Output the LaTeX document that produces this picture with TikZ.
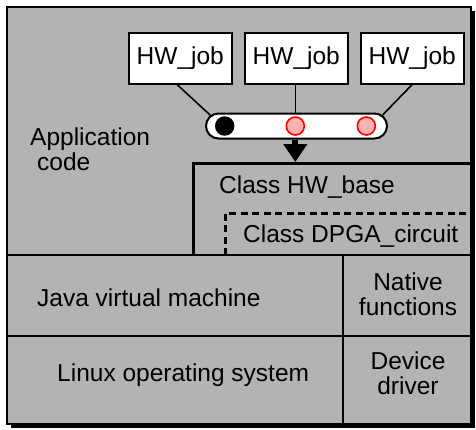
\documentclass[tikz,border=0pt]{standalone}
\usepackage{fontspec}
\setmainfont{Liberation Sans}
\usetikzlibrary{arrows.meta,positioning,shapes.misc}
\definecolor{panelgray}{RGB}{179,179,179}
\definecolor{slotpink}{RGB}{255,176,176}

\tikzset{
  lbl/.style={inner sep=0pt, font=\fontsize{24.5}{25}\selectfont},
  jobbox/.style={draw, line width=2pt, fill=white, minimum width=103pt,
    minimum height=51pt, inner sep=0pt, font=\fontsize{24.5}{25}\selectfont},
  slot/.style={circle, minimum size=18pt, inner sep=0pt},
  divider/.style={line width=1.4pt},
}

\begin{document}
\begin{tikzpicture}[x=1pt,y=-1pt]
\useasboundingbox (0,0) rectangle (476,429);

% panel with shadow
\fill (11,11) rectangle (475,428);
\draw[fill=panelgray, line width=1.8pt] (7,7) rectangle (471,424);

% layer boundaries
\draw[divider] (7,255) -- (471,255);
\draw[divider] (7,336) -- (471,336);
\draw[divider] (343,255) -- (343,424);
\draw[line width=3pt] (193,255) -- (193,163) -- (471,163);
\draw[line width=3pt, dash pattern=on 7pt off 4.5pt] (225,255) -- (225,213) -- (471,213);

% jobs and queue
\node[jobbox] (job1) at (180.3,58) {HW\_job};
\node[jobbox] (job2) at (296.3,58) {HW\_job};
\node[jobbox] (job3) at (412.2,58) {HW\_job};

\coordinate (s1) at (222,126);
\coordinate (s2) at (295.3,126);
\coordinate (s3) at (372,126);
\draw[line width=1.6pt] (job1.south -| 177,0) -- (s1);
\draw[line width=1.6pt] (job2.south -| s2) -- (s2);
\draw[line width=1.6pt] (job3.south) -- (s3);

\node[rounded rectangle, draw, line width=2pt, fill=white, minimum width=181pt,
  minimum height=25pt, inner sep=0pt] (queue) at (296.5,126) {};
\node[slot, fill=black, minimum size=19.5pt] (d1) at (224.7,126) {};
\node[slot, draw=red, line width=1.6pt, fill=slotpink] (d2) at (295.3,126) {};
\node[slot, draw=red, line width=1.6pt, fill=slotpink] (d3) at (366.3,126) {};

\coordinate (hit) at (295.3,162);
\draw[line width=6pt, -{Triangle[width=23pt,length=18pt]}] (queue.south -| d2) -- (hit);

% labels
\node[lbl, align=left, anchor=west] (app) at (30,149) {Application\\\hspace*{7pt}code};
\node[lbl, anchor=west] (base) at (219,187) {Class HW\_base};
\node[lbl, anchor=west] (dpga) at (243,236) {Class DPGA\_circuit};
\node[lbl, anchor=west] (jvm) at (37,298) {Java virtual machine};
\node[lbl, align=center] (native) at (408,294.5) {Native\\functions};
\node[lbl, anchor=west] (linux) at (57,375) {Linux operating system};
\node[lbl, align=center] (driver) at (408,373.5) {Device\\driver};
\end{tikzpicture}
\end{document}
